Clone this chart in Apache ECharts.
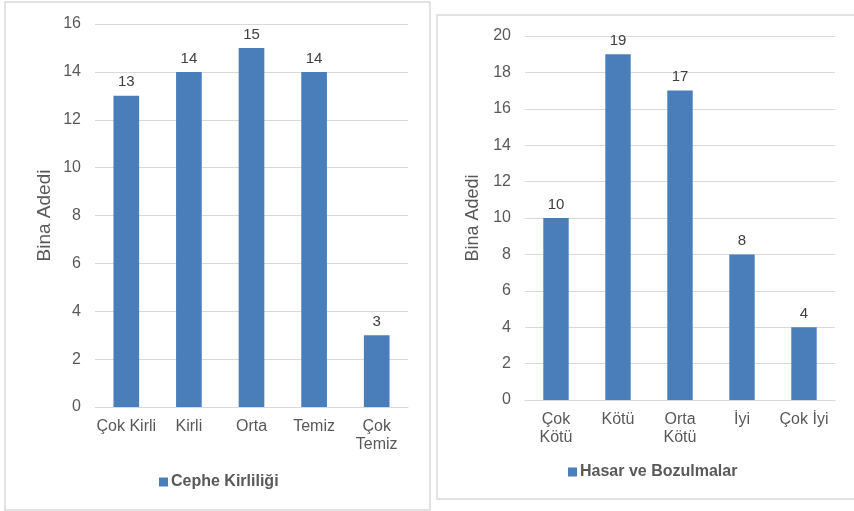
<!DOCTYPE html>
<html>
<head>
<meta charset="utf-8">
<script src="https://cdn.jsdelivr.net/npm/echarts@6/dist/echarts.min.js"></script>
<style>
  html, body { margin: 0; padding: 0; background: #fff; }
  #main { width: 854px; height: 511px; }
</style>
</head>
<body>
<div id="main"></div>
<script>
// sol grafik: cephe kirliliği
var kirlilikKategori = ['Çok Kirli', 'Kirli', 'Orta', 'Temiz', 'Çok\nTemiz'];
var kirlilikDeger = [13, 14, 15, 14, 3];
// sağ grafik: hasar ve bozulmalar
var hasarKategori = ['Çok\nKötü', 'Kötü', 'Orta\nKötü', 'İyi', 'Çok İyi'];
var hasarDeger = [10, 19, 17, 8, 4];

var barColor = '#4a7ebb';
var textColor = '#595959';
var gridColor = '#d9d9d9';
var font = 'Liberation Sans, Arial, sans-serif';

function xAxis(idx, cats) {
    return {
        type: 'category',
        gridIndex: idx,
        data: cats,
        axisTick: { show: false },
        axisLine: { lineStyle: { color: gridColor, width: 1 } },
        axisLabel: { interval: 0, color: textColor, fontSize: 16, fontFamily: font, margin: 11, lineHeight: 18 }
    };
}

function yAxis(idx, max, gap, nameSize) {
    return {
        type: 'value',
        gridIndex: idx,
        min: 0,
        max: max,
        interval: 2,
        name: 'Bina Adedi',
        nameLocation: 'middle',
        nameRotate: 90,
        nameGap: gap,
        nameTextStyle: { color: textColor, fontSize: nameSize, fontFamily: font },
        axisLine: { show: false },
        axisTick: { show: false },
        axisLabel: { color: textColor, fontSize: 16, fontFamily: font, margin: 14 },
        splitLine: { lineStyle: { color: gridColor, width: 1 } }
    };
}

function barSeries(name, idx, vals) {
    return {
        name: name,
        type: 'bar',
        xAxisIndex: idx,
        yAxisIndex: idx,
        data: vals,
        barWidth: '41%',
        itemStyle: { color: barColor },
        label: { show: true, position: 'top', distance: 6, color: '#404040', fontSize: 15, fontFamily: font }
    };
}

function legend(name, x, y) {
    return {
        data: [name], left: x, top: y,
        icon: 'rect', itemWidth: 9, itemHeight: 9, itemGap: 4,
        textStyle: { color: textColor, fontSize: 16, fontWeight: 'bold', fontFamily: font, padding: [0, 0, 0, -2] }
    };
}

var chartDom = document.getElementById('main');
var myChart = echarts.init(chartDom);
var option;

option = {
    animation: false,
    graphic: [
        { type: 'rect', shape: { x: 5, y: 2, width: 425, height: 508 }, style: { fill: 'none', stroke: gridColor, lineWidth: 1.5 } },
        { type: 'rect', shape: { x: 437, y: 15, width: 420, height: 484 }, style: { fill: 'none', stroke: gridColor, lineWidth: 1.5 } }
    ],
    grid: [
        { left: 95, right: 446, top: 24, bottom: 104 },
        { left: 525, right: 19, top: 36, bottom: 111 }
    ],
    legend: [
        legend('Cephe Kirliliği', 154, 469),
        legend('Hasar ve Bozulmalar', 563, 459)
    ],
    xAxis: [xAxis(0, kirlilikKategori), xAxis(1, hasarKategori)],
    yAxis: [yAxis(0, 16, 41, 19), yAxis(1, 20, 43, 18)],
    series: [
        barSeries('Cephe Kirliliği', 0, kirlilikDeger),
        barSeries('Hasar ve Bozulmalar', 1, hasarDeger)
    ]
};

option && myChart.setOption(option);
window.addEventListener("resize", function () {
    myChart.resize();
});
</script>
</body>
</html>
